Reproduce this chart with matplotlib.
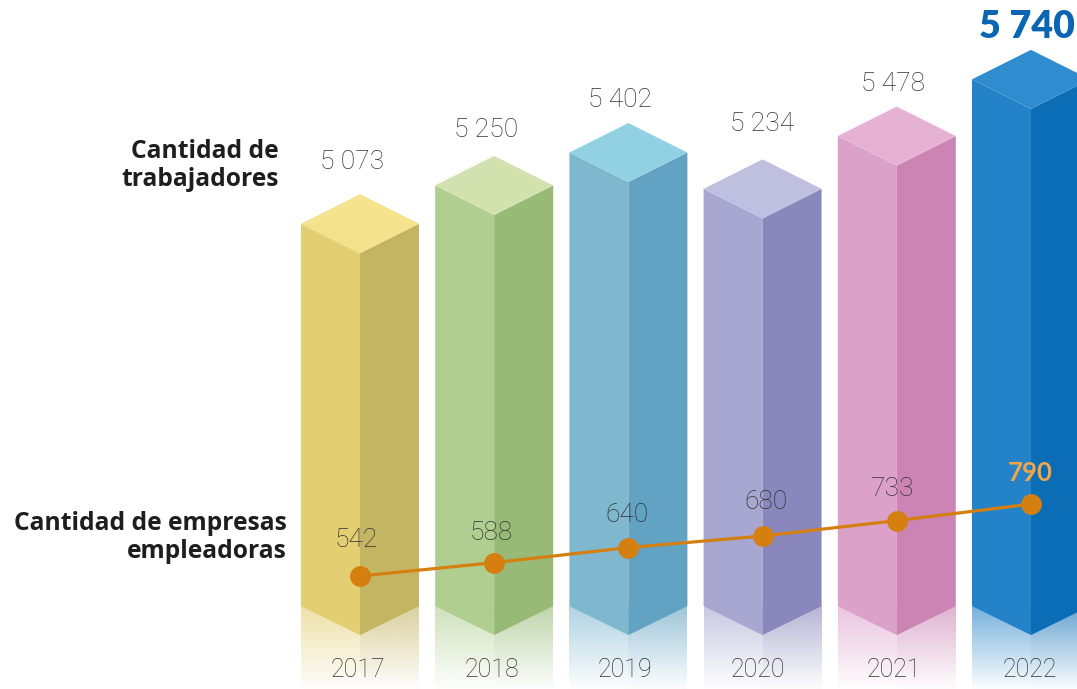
import numpy as np
import matplotlib
matplotlib.use('Agg')
import matplotlib.pyplot as plt
from matplotlib.colors import to_rgb
from matplotlib.patches import Polygon

years = ['2017', '2018', '2019', '2020', '2021', '2022']
workers = [5073, 5250, 5402, 5234, 5478, 5740]
companies = [542, 588, 640, 680, 733, 790]
worker_labels = ['5 073', '5 250', '5 402', '5 234', '5 478', '5 740']

left_colors = ['#e3ce72', '#b0ce90', '#7fb7cf', '#a8a7d1', '#dca1c9', '#2382c8']
right_colors = ['#c4b562', '#97bb76', '#62a2c2', '#8987bb', '#cb84b3', '#0a6db5']
top_colors = ['#f5e28c', '#d2e2ae', '#92d1e2', '#bfbfe0', '#e6b2d4', '#2f8dcf']

W, H = 1077, 689
plt.rcParams['font.family'] = ['Lato', 'DejaVu Sans']

fig = plt.figure(figsize=(W / 100, H / 100), dpi=100)
ax = fig.add_axes([0, 0, 1, 1])
ax.set_xlim(-2.6826, 5.343)
ax.set_ylim(2924, 6106.5)
ax.axis('off')

# second scale for the line of companies
ax2 = ax.twinx()
ax2.set_ylim(542 - (689 - 576) / 0.29, 542 + 576 / 0.29)
ax2.axis('off')

half = 59 / 134.2
unit = 1 / 0.2165  # worker units per pixel
depth = 29.5 * unit
side_y = 3173 + 29 * unit   # where the chevron meets the bar sides
low_y = 3173                # chevron point


def gradient(x0, x1, color, start):
    # colour fading into white towards the bottom of the figure
    rows = 80
    img = np.ones((rows, 2, 4))
    img[:, :, :3] = to_rgb(color)
    img[:, :, 3] = np.linspace(start, 0.02, rows)[:, None]
    ax.imshow(img, extent=(x0, x1, 2924, side_y), aspect='auto', zorder=1)


for i in range(len(years)):
    top = workers[i]
    gradient(i - half, i, left_colors[i], 0.62)
    gradient(i, i + half, right_colors[i], 0.62)
    ax.add_patch(Polygon([(i - half, side_y), (i, low_y), (i, top - depth), (i - half, top)],
                         color=left_colors[i], lw=0, zorder=2))
    ax.add_patch(Polygon([(i, low_y), (i + half, side_y), (i + half, top), (i, top - depth)],
                         color=right_colors[i], lw=0, zorder=2))
    ax.add_patch(Polygon([(i - half, top), (i, top + depth), (i + half, top), (i, top - depth)],
                         color=top_colors[i], lw=0, zorder=2))

ax.set_xlim(-2.6826, 5.343)
ax.set_ylim(2924, 6106.5)

ax2.plot(range(len(years)), companies, color='#d57f10', lw=2.3, marker='o', ms=14,
         solid_capstyle='round', zorder=5)


def label(x, y, s, **kw):
    kw.setdefault('color', '#333333')
    kw.setdefault('fontsize', 19)
    kw.setdefault('fontweight', 'light')
    kw.setdefault('family', ['Roboto', 'DejaVu Sans'])
    kw.setdefault('ha', 'center')
    fig.text(x / W, 1 - y / H, s, va='center', **kw)


worker_pos = [(352, 162), (486, 130), (620, 100), (762, 124), (893, 84)]
for (x, y), s in zip(worker_pos, worker_labels):
    label(x, y, s)
label(1027, 27, worker_labels[5], color='#0a66b0', fontsize=27, fontweight='heavy',
      family=['Lato', 'DejaVu Sans'])

company_pos = [(356, 540), (491, 533), (627, 515), (766, 502), (893, 489)]
for (x, y), v in zip(company_pos, companies):
    label(x, y, str(v))
label(1030, 473, str(companies[5]), color='#f2a647', fontweight='bold', fontsize=18.5,
      family=['Lato', 'DejaVu Sans'])

year_pos = [358, 492, 625, 758, 894, 1030]
for x, s in zip(year_pos, years):
    label(x, 670, s, fontsize=18)

# bold captions use a wider face, closer to the original lettering
caption = dict(color='#1e1e1e', fontsize=17.7, fontweight='bold', ha='right',
               family=['Open Sans', 'DejaVu Sans'])
label(279, 151, 'Cantidad de', **caption)
label(279, 179, 'trabajadores', **caption)
label(287, 524, 'Cantidad de empresas', **caption)
label(287, 552, 'empleadoras', **caption)

fig.savefig('out.png', dpi=100)
